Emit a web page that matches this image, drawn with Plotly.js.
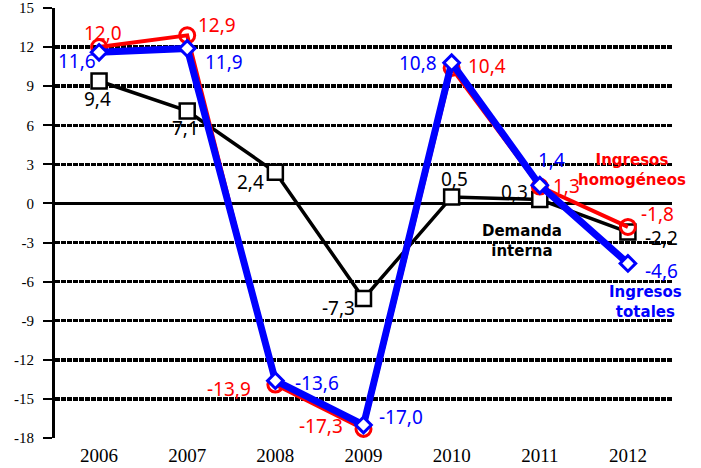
<!DOCTYPE html>
<html>
<head>
<meta charset="utf-8">
<script src="https://cdn.plot.ly/plotly-3.0.1.min.js"></script>
<style>html,body{margin:0;padding:0;background:#fff;}#chart{width:701px;height:468px;}</style>
</head>
<body>
<div id="chart"></div>
<script>
// ---- data ----
var years = ["2006", "2007", "2008", "2009", "2010", "2011", "2012"];
var ingresosHomogeneos = [12.0, 12.9, -13.9, -17.3, 10.4, 1.3, -1.8];
var ingresosTotales = [11.6, 11.9, -13.6, -17.0, 10.8, 1.4, -4.6];
var demandaInterna = [9.4, 7.1, 2.4, -7.3, 0.5, 0.3, -2.2];
var yTicks = [15, 12, 9, 6, 3, 0, -3, -6, -9, -12, -15, -18];

// ---- label offsets (pixels: dx right, dy down) ----
var offRed = [[4,-14],[30,-10],[-46,4],[-43,-3],[35,-2],[27,-1],[30,-13]];
var offBlue = [[-22,9],[37,14],[42,2],[37,-8],[-34,0],[12,-25],[34,8]];
var offBlack = [[-2,18],[-2,17],[-25,10],[-25,9],[3,-18],[-25,-8],[34,6]];

function fmt(v){ return v.toFixed(1).replace('.', ','); }

var traces = [
  {x: years, y: demandaInterna, type: 'scatter', mode: 'lines+markers',
   line: {color: '#000000', width: 3.5},
   marker: {symbol: 'square', size: 15, color: '#ffffff', line: {color: '#000000', width: 2.5}}},
  {x: years, y: ingresosHomogeneos, type: 'scatter', mode: 'lines+markers',
   line: {color: '#ff0000', width: 4},
   marker: {symbol: 'circle', size: 15, color: 'rgba(255,255,255,0)', line: {color: '#ff0000', width: 3}}},
  {x: years, y: ingresosTotales, type: 'scatter', mode: 'lines+markers',
   line: {color: '#0000ff', width: 7},
   marker: {symbol: 'diamond', size: 12, color: '#ffffff', line: {color: '#0000ff', width: 3}}}
];

var labelFont = "'Noto Sans', 'DejaVu Sans', sans-serif";
var annotations = [];
function addLabels(vals, offs, color){
  for (var i = 0; i < vals.length; i++) {
    annotations.push({x: i, y: vals[i], xref: 'x', yref: 'y', text: fmt(vals[i]),
      showarrow: false, xshift: offs[i][0], yshift: -offs[i][1],
      font: {family: labelFont, size: 19, color: color}});
  }
}
addLabels(ingresosHomogeneos, offRed, '#ff0000');
addLabels(ingresosTotales, offBlue, '#0000ff');
addLabels(demandaInterna, offBlack, '#000000');

var nameFont = "'DejaVu Sans', Verdana, sans-serif";
annotations.push({x: 6.05, y: 2.6, xref: 'x', yref: 'y', showarrow: false,
  text: '<b>Ingresos<br>homogéneos</b>', align: 'center',
  font: {family: nameFont, size: 15, color: '#ff0000'}});
annotations.push({x: 4.8, y: -2.9, xref: 'x', yref: 'y', showarrow: false,
  text: '<b>Demanda<br>interna</b>', align: 'center',
  font: {family: nameFont, size: 15, color: '#000000'}});
annotations.push({x: 6.2, y: -7.6, xref: 'x', yref: 'y', showarrow: false,
  text: '<b>Ingresos<br>totales</b>', align: 'center',
  font: {family: nameFont, size: 15, color: '#0000ff'}});

var layout = {
  width: 701, height: 468,
  margin: {l: 55, r: 29, t: 8, b: 30},
  paper_bgcolor: '#ffffff', plot_bgcolor: '#ffffff',
  showlegend: false,
  xaxis: {
    type: 'category', range: [-0.5, 6.5],
    showgrid: false, zeroline: false, showline: false, ticks: '',
    tickfont: {family: "'Liberation Serif', 'Times New Roman', serif", size: 19, color: '#000'},
    ticklabelstandoff: 4
  },
  yaxis: {
    range: [-18, 15], tickvals: yTicks, ticktext: yTicks.map(String),
    showgrid: true, gridcolor: '#000000', gridwidth: 3.5, griddash: '5px,1px',
    zeroline: true, zerolinecolor: '#000000', zerolinewidth: 2.5,
    showline: true, linecolor: '#000000', linewidth: 3,
    ticks: 'outside', ticklen: 9, tickwidth: 2, tickcolor: '#000',
    tickfont: {family: "'Liberation Serif', 'Times New Roman', serif", size: 15, color: '#000'},
    ticklabelstandoff: 6
  },
  annotations: annotations
};

Plotly.newPlot('chart', traces, layout, {displayModeBar: false, staticPlot: true});
</script>
</body>
</html>
